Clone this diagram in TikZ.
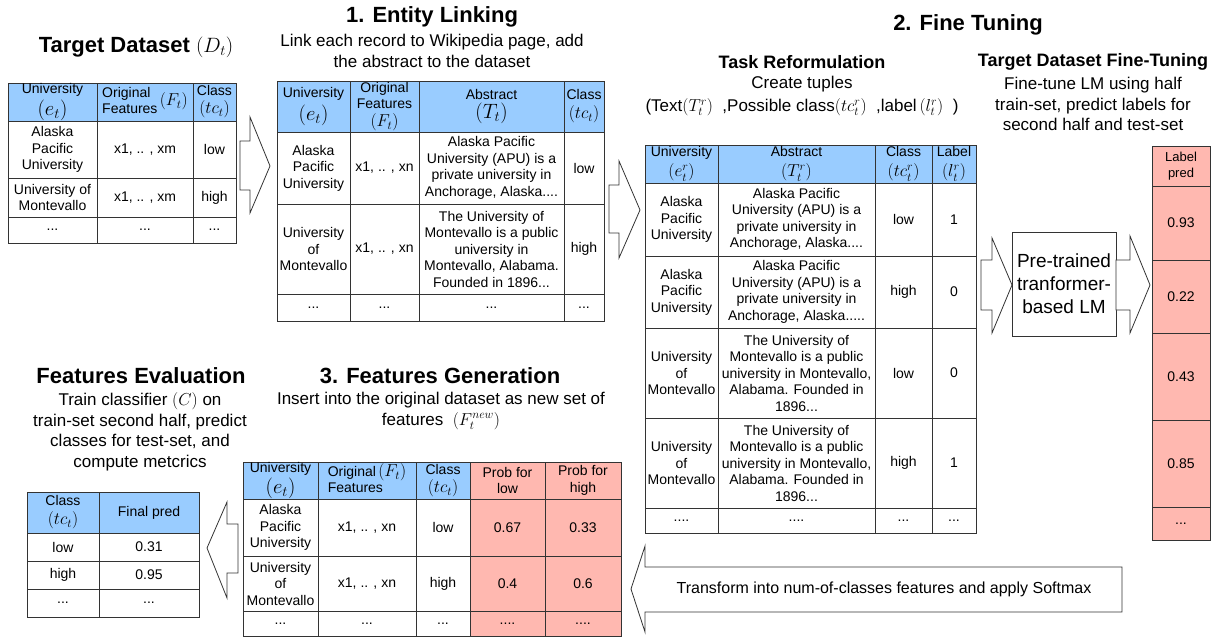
\documentclass[tikz,border=0pt]{standalone}
\usepackage{fontspec}
\setmainfont{Liberation Sans}
\definecolor{headblue}{HTML}{99CCFF}
\definecolor{predred}{HTML}{FFB8B0}
% math in a given size
\newcommand{\mth}[2][18]{{\fontsize{#1}{#1}\selectfont$#2$}}
% table cell: [style]{name}{x1}{y1}{x2}{y2}{text}
\newcommand{\tcell}[7][cell]{\node[#1, minimum width={(#5-#3)*1pt}, minimum height={(#6-#4)*1pt}] (#2) at ({(#3+#5)/2},{(#4+#6)/2}) {#7};}

\begin{document}
\begin{tikzpicture}[x=1pt,y=-1pt]
\tikzstyle{cell}=[draw=black!80, line width=0.8pt, inner sep=0pt, align=center, font=\fontsize{14}{16.5}\selectfont]
\tikzstyle{head}=[cell, fill=headblue, font=\fontsize{14}{16}\selectfont]
\tikzstyle{pred}=[cell, fill=predred]
\tikzstyle{title}=[font=\fontsize{22}{26}\selectfont\bfseries]
\tikzstyle{subhead}=[font=\fontsize{18}{21}\selectfont\bfseries]
\tikzstyle{subtitle}=[align=center, font=\fontsize{17}{20.5}\selectfont]
\tikzstyle{lmbox}=[draw=black!80, line width=0.8pt, align=center, minimum width=104pt, minimum height=104pt, inner sep=0pt, font=\fontsize{19}{23}\selectfont]
\tikzstyle{blockarrow}=[draw=black!80, fill=white, line width=0.8pt, line join=miter]

\useasboundingbox (0,0) rectangle (1212,637);

% target dataset
\node[title] (tdtitle) at (136,47) {Target Dataset \mdseries$(D_t)$};
\tcell[head]{t1h1}{8}{83}{97}{121}{University\\[2pt]\mth[20]{(e_t)}}
\tcell[head]{t1h2}{97}{83}{193}{121}{\begin{tabular}{@{}l@{}}Original\\Features\end{tabular}\,\mth{(F_t)}}
\tcell[head]{t1h3}{193}{83}{236}{121}{Class\\[2pt]\mth{(tc_t)}}
\tcell{t1a1}{8}{121}{97}{178}{Alaska\\Pacific\\University}
\tcell{t1a2}{97}{121}{193}{178}{x1, .. , xm}
\tcell{t1a3}{193}{121}{236}{178}{low}
\tcell{t1b1}{8}{178}{97}{217}{University of\\Montevallo}
\tcell{t1b2}{97}{178}{193}{217}{x1, .. , xm}
\tcell{t1b3}{193}{178}{236}{217}{high}
\tcell{t1c1}{8}{217}{97}{243}{...}
\tcell{t1c2}{97}{217}{193}{243}{...}
\tcell{t1c3}{193}{217}{236}{243}{...}

\draw[blockarrow] (240,141) -- (250,141) -- (250,117) -- (270,166) -- (250,213) -- (250,190) -- (240,190) -- cycle;

% 1. entity linking
\node[title] (eltitle) at (432,17) {1. Entity Linking};
\node[subtitle] (eltext) at (432,51) {Link each record to Wikipedia page, add\\the abstract to the dataset};
\tcell[head]{t2h1}{277}{81}{350}{132}{University\\[3pt]\mth[20]{(e_t)}}
\tcell[head]{t2h2}{350}{81}{419}{132}{Original\\Features\\[2pt]\mth{(F_t)}}
\tcell[head]{t2h3}{419}{81}{564}{132}{Abstract\\[3pt]\mth[20]{(T_t)}}
\tcell[head]{t2h4}{564}{81}{604}{132}{Class\\[3pt]\mth{(tc_t)}}
\tcell{t2a1}{277}{132}{350}{204}{Alaska\\Pacific\\University}
\tcell{t2a2}{350}{132}{419}{204}{x1, .. , xn}
\tcell{t2a3}{419}{132}{564}{204}{Alaska Pacific\\University (APU) is a\\private university in\\Anchorage, Alaska....}
\tcell{t2a4}{564}{132}{604}{204}{low}
\tcell{t2b1}{277}{204}{350}{294}{University\\of\\Montevallo}
\tcell{t2b2}{350}{204}{419}{294}{x1, .. , xn}
\tcell{t2b3}{419}{204}{564}{294}{The University of\\Montevallo is a public\\university in\\Montevallo, Alabama.\\Founded in 1896...}
\tcell{t2b4}{564}{204}{604}{294}{high}
\tcell{t2c1}{277}{294}{350}{321}{...}
\tcell{t2c2}{350}{294}{419}{321}{...}
\tcell{t2c3}{419}{294}{564}{321}{...}
\tcell{t2c4}{564}{294}{604}{321}{...}

\draw[blockarrow] (609,185) -- (619,185) -- (619,161) -- (640,210) -- (619,258) -- (619,233) -- (609,233) -- cycle;

% 2. fine tuning
\node[title] (fttitle) at (968,25) {2. Fine Tuning};
\node[subhead] (trtitle) at (802,62) {Task Reformulation};
\node[subtitle, font=\fontsize{17}{23}\selectfont] (trtext) at (802,96) {Create tuples\\(Text\mth[18]{(T_t^r)}\ \ ,Possible class\mth[18]{(tc_t^r)}\ \ ,label\,\mth[18]{(l_t^r)}\ \ )};
\tcell[head]{t3h1}{645}{145}{718}{183}{University\\[4pt]\mth[18]{(e_t^r)}}
\tcell[head]{t3h2}{718}{145}{875}{183}{Abstract\\[4pt]\mth[18]{(T_t^r)}}
\tcell[head]{t3h3}{875}{145}{932}{183}{Class\\[4pt]\mth{(tc_t^r)}}
\tcell[head]{t3h4}{932}{145}{976}{183}{Label\\[4pt]\mth{(l_t^r)}}
\tcell{t3a1}{645}{183}{718}{256}{Alaska\\Pacific\\University}
\tcell{t3a2}{718}{183}{875}{256}{Alaska Pacific\\University (APU) is a\\private university in\\Anchorage, Alaska....}
\tcell{t3a3}{875}{183}{932}{256}{low}
\tcell{t3a4}{932}{183}{976}{256}{1}
\tcell{t3b1}{645}{256}{718}{328}{Alaska\\Pacific\\University}
\tcell{t3b2}{718}{256}{875}{328}{Alaska Pacific\\University (APU) is a\\private university in\\Anchorage, Alaska.....}
\tcell{t3b3}{875}{256}{932}{328}{high}
\tcell{t3b4}{932}{256}{976}{328}{0}
\tcell{t3c1}{645}{328}{718}{418}{University\\of\\Montevallo}
\tcell{t3c2}{718}{328}{875}{418}{The University of\\Montevallo is a public\\university in Montevallo,\\Alabama. Founded in\\1896...}
\tcell{t3c3}{875}{328}{932}{418}{low}
\tcell{t3c4}{932}{328}{976}{418}{0}
\tcell{t3d1}{645}{418}{718}{508}{University\\of\\Montevallo}
\tcell{t3d2}{718}{418}{875}{508}{The University of\\Montevallo is a public\\university in Montevallo,\\Alabama. Founded in\\1896...}
\tcell{t3d3}{875}{418}{932}{508}{high}
\tcell{t3d4}{932}{418}{976}{508}{1}
\tcell{t3e1}{645}{508}{718}{533}{....}
\tcell{t3e2}{718}{508}{875}{533}{....}
\tcell{t3e3}{875}{508}{932}{533}{...}
\tcell{t3e4}{932}{508}{976}{533}{...}

\node[subhead] (fttitle2) at (1093,62) {Target Dataset Fine-Tuning};
\node[subtitle] (fttext) at (1093,104) {Fine-tune LM using half\\train-set, predict labels for\\second half and test-set};

\draw[blockarrow] (981,260) -- (992,260) -- (992,238) -- (1012,285) -- (992,333) -- (992,310) -- (981,310) -- cycle;
\node[lmbox] (lm) at (1064,284) {Pre-trained\\tranformer-\\based LM};
\draw[blockarrow] (1116,260) -- (1130,260) -- (1130,236) -- (1150,285) -- (1130,333) -- (1130,310) -- (1116,310) -- cycle;

\tcell[pred]{lph}{1152}{146}{1210}{186}{\fontsize{13}{15}\selectfont Label\\\fontsize{13}{15}\selectfont pred}
\tcell[pred]{lp1}{1152}{186}{1210}{260}{0.93}
\tcell[pred]{lp2}{1152}{260}{1210}{333}{0.22}
\tcell[pred]{lp3}{1152}{333}{1210}{420}{0.43}
\tcell[pred]{lp4}{1152}{420}{1210}{507}{0.85}
\tcell[pred]{lp5}{1152}{507}{1210}{540}{...}

\draw[blockarrow] (1122,567) -- (645,567) -- (645,546) -- (631,589) -- (645,632) -- (645,612) -- (1122,612) -- cycle;
\node[subtitle, font=\fontsize{16}{19}\selectfont] (softmax) at (884,589) {Transform into num-of-classes features and apply Softmax};

% 3. features generation
\node[title] (fgtitle) at (440,376) {3. Features Generation};
\node[subtitle] (fgtext) at (441,411) {Insert into the original dataset as new set of\\features\ \ \mth[17]{(F_t^{new})}};
\tcell[head]{t4h1}{243}{462}{318}{499}{University\\[2pt]\mth[20]{(e_t)}}
\tcell[head]{t4h2}{318}{462}{416}{499}{\begin{tabular}{@{}l@{}}Original\,\mth{(F_t)}\\Features\end{tabular}}
\tcell[head]{t4h3}{416}{462}{470}{499}{Class\\[2pt]\mth{(tc_t)}}
\tcell[pred]{t4h4}{470}{462}{545}{499}{Prob for\\low}
\tcell[pred]{t4h5}{545}{462}{621}{499}{Prob for\\high}
\tcell{t4a1}{243}{499}{318}{556}{Alaska\\Pacific\\University}
\tcell{t4a2}{318}{499}{416}{556}{x1, .. , xn}
\tcell{t4a3}{416}{499}{470}{556}{low}
\tcell[pred]{t4a4}{470}{499}{545}{556}{0.67}
\tcell[pred]{t4a5}{545}{499}{621}{556}{0.33}
\tcell{t4b1}{243}{556}{318}{611}{University\\of\\Montevallo}
\tcell{t4b2}{318}{556}{416}{611}{x1, .. , xn}
\tcell{t4b3}{416}{556}{470}{611}{high}
\tcell[pred]{t4b4}{470}{556}{545}{611}{0.4}
\tcell[pred]{t4b5}{545}{556}{621}{611}{0.6}
\tcell{t4c1}{243}{611}{318}{636}{...}
\tcell{t4c2}{318}{611}{416}{636}{...}
\tcell{t4c3}{416}{611}{470}{636}{...}
\tcell[pred]{t4c4}{470}{611}{545}{636}{....}
\tcell[pred]{t4c5}{545}{611}{621}{636}{....}

\draw[blockarrow] (238,524) -- (227,524) -- (227,502) -- (207,548) -- (227,598) -- (227,573) -- (238,573) -- cycle;

% features evaluation
\node[title] (fetitle) at (141,376) {Features Evaluation};
\node[subtitle] (fetext) at (140,432) {Train classifier \mth[17]{(C)} on\\train-set second half, predict\\classes for test-set, and\\compute metcrics};
\tcell[head]{t5h1}{27}{492}{99}{533}{Class\\[3pt]\mth{(tc_t)}}
\tcell[head]{t5h2}{99}{492}{199}{533}{Final pred}
\tcell{t5a1}{27}{533}{99}{561}{low}
\tcell{t5a2}{99}{533}{199}{561}{0.31}
\tcell{t5b1}{27}{561}{99}{589}{high}
\tcell{t5b2}{99}{561}{199}{589}{0.95}
\tcell{t5c1}{27}{589}{99}{617}{...}
\tcell{t5c2}{99}{589}{199}{617}{...}
\end{tikzpicture}
\end{document}
